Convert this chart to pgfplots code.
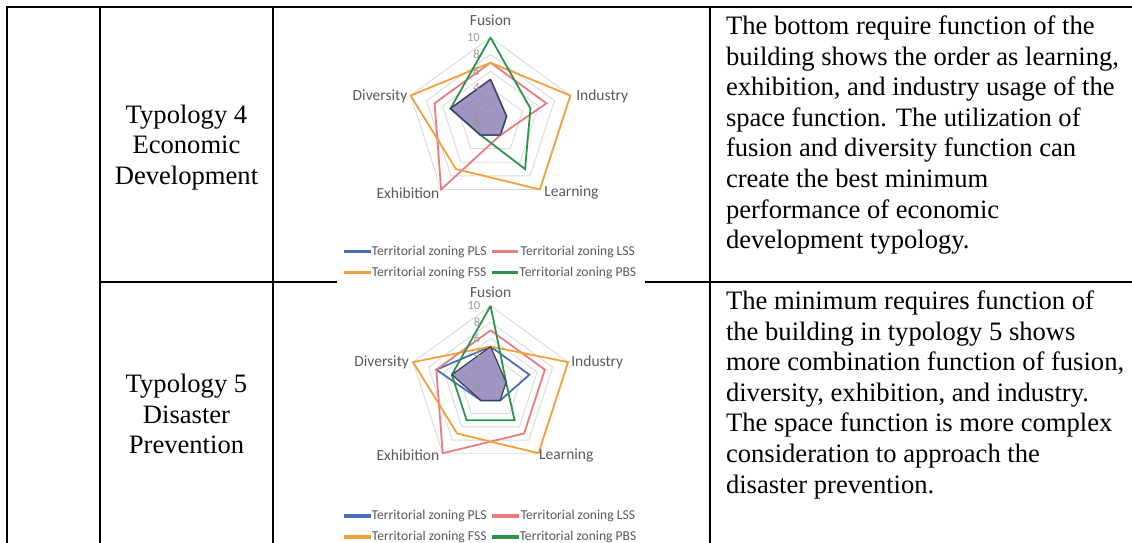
\documentclass[border=0pt]{standalone}
\usepackage{pgfplots}
\pgfplotsset{compat=1.18}
\usepackage{fontspec}
\setmainfont{Liberation Serif}
\newfontfamily\chartfont{Carlito}

\definecolor{plsc}{HTML}{4A6DB8}
\definecolor{lssc}{HTML}{E97C80}
\definecolor{fssc}{HTML}{F2A03A}
\definecolor{pbsc}{HTML}{2E9447}
\definecolor{minfill}{HTML}{8F82B8}
\definecolor{minline}{HTML}{3F3F5C}
\definecolor{ringc}{HTML}{DADADA}
\definecolor{labc}{HTML}{595959}
\definecolor{tickc}{HTML}{999999}

\newcommand\tabfont{\fontsize{26.6}{30.6}\selectfont}

\pgfplotsset{
  radar/.style={
    hide axis, scale only axis, anchor=center, clip=false,
    xmin=-12, xmax=12, ymin=-12, ymax=12,
    data cs=polar,
    legend columns=2,
    legend image code/.code={\fill[##1] (0pt,-1pt) rectangle (25pt,1pt);},
    legend style={draw=none, fill=none, inner sep=0pt, anchor=center,
      font=\chartfont\fontsize{13.6}{14}\selectfont, text=labc,
      row sep=8pt, nodes={inner sep=1pt},
      /tikz/every even column/.append style={column sep=4pt}},
  },
  ring/.style={ringc, line width=0.9pt, forget plot},
  ser/.style={line width=1.8pt},
}
\tikzset{
  cat/.style={font=\chartfont\fontsize{15.5}{16}\selectfont, text=labc, inner sep=0pt},
  tck/.style={font=\chartfont\fontsize{12.5}{13}\selectfont, text=tickc, inner sep=0pt, anchor=east},
}

\begin{document}
\begin{tikzpicture}
\useasboundingbox (0pt,0pt) rectangle (1132pt,-543pt);
\clip (0pt,0pt) rectangle (1132pt,-543pt);

% table frame and cell text
\begin{scope}[x=1pt,y=-1pt,line width=2pt]
  \draw (6.7,570) -- (6.7,7.3) -- (1150,7.3);
  \draw (100,7.3) -- (100,570);
  \draw (272.7,7.3) -- (272.7,570);
  \draw (710,7.3) -- (710,570);
  \draw (100,282.3) -- (336.7,282.3);
  \draw (645,282.3) -- (1150,282.3);

  \node[font=\tabfont, align=center, anchor=north, inner sep=0pt] at (186.5,103.8)
    {Typology 4\\Economic\\Development};
  \node[font=\tabfont, align=center, anchor=north, inner sep=0pt] at (186.5,373.3)
    {Typology 5\\Disaster\\Prevention};

  \node[font=\tabfont, align=left, anchor=north west, inner sep=0pt] at (725,14.8)
    {The bottom require function of the\\
     building shows the order as learning,\\
     exhibition, and industry usage of the\\
     space function. The utilization of\\
     fusion and diversity function can\\
     create the best minimum\\
     performance of economic\\
     development typology.};
  \node[font=\tabfont, align=left, anchor=north west, inner sep=0pt] at (725,289.8)
    {The minimum requires function of\\
     the building in typology 5 shows\\
     more combination function of fusion,\\
     diversity, exhibition, and industry.\\
     The space function is more complex\\
     consideration to approach the\\
     disaster prevention.};
\end{scope}

% Typology 4: Fusion, Industry, Learning, Exhibition, Diversity at 90, 18, -54, -126, 162 deg
\begin{axis}[radar, at={(490.5pt,-121.5pt)}, x=8.4pt, y=8.4pt,
  legend style={at={(0.5,-0.197)}}]
  \addplot[ring] coordinates {(90,2)(18,2)(-54,2)(-126,2)(162,2)(90,2)};
  \addplot[ring] coordinates {(90,4)(18,4)(-54,4)(-126,4)(162,4)(90,4)};
  \addplot[ring] coordinates {(90,6)(18,6)(-54,6)(-126,6)(162,6)(90,6)};
  \addplot[ring] coordinates {(90,8)(18,8)(-54,8)(-126,8)(162,8)(90,8)};
  \addplot[ring] coordinates {(90,10)(18,10)(-54,10)(-126,10)(162,10)(90,10)};

  \addplot[ser, plsc] coordinates {(90,5)(18,2)(-54,2)(-126,2)(162,5)(90,5)};
  \addplot[ser, lssc] coordinates {(90,7)(18,7)(-54,2)(-126,10)(162,7)(90,7)};
  \addplot[ser, fssc] coordinates {(90,7)(18,10)(-54,10)(-126,7)(162,10)(90,7)};
  \addplot[ser, pbsc] coordinates {(90,10)(18,5)(-54,7)(-126,2)(162,5)(90,10)};
  \addplot[fill=minfill, fill opacity=0.85, draw=minline, line width=1.2pt, forget plot]
    coordinates {(90,5)(18,2)(-54,2)(-126,2)(162,5)(90,5)};
  \legend{Territorial zoning PLS, Territorial zoning LSS, Territorial zoning FSS, Territorial zoning PBS}

  \node[tck] at (axis cs:-1.25,10) {10};
  \node[tck] at (axis cs:-1.25,8) {8};
  \node[tck] at (axis cs:-1.25,6) {6};
  \node[tck] at (axis cs:-1.25,4) {4};
  \node[tck] at (axis cs:-1.25,2) {2};
  \node[tck] at (axis cs:-1.25,0) {0};
  \node[cat, anchor=center] at (axis cs:0,12.06) {Fusion};
  \node[cat, anchor=west] at (axis cs:10.19,3.02) {Industry};
  \node[cat, anchor=west] at (axis cs:6.38,-8.51) {Learning};
  \node[cat, anchor=east] at (axis cs:-6.07,-8.51) {Exhibition};
  \node[cat, anchor=east] at (axis cs:-9.88,3.02) {Diversity};
\end{axis}

% Typology 5
\begin{axis}[radar, at={(490.6pt,-387.3pt)}, x=8.15pt, y=8.15pt,
  legend style={at={(0.5,-0.21)}}]
  \addplot[ring] coordinates {(90,2)(18,2)(-54,2)(-126,2)(162,2)(90,2)};
  \addplot[ring] coordinates {(90,4)(18,4)(-54,4)(-126,4)(162,4)(90,4)};
  \addplot[ring] coordinates {(90,6)(18,6)(-54,6)(-126,6)(162,6)(90,6)};
  \addplot[ring] coordinates {(90,8)(18,8)(-54,8)(-126,8)(162,8)(90,8)};
  \addplot[ring] coordinates {(90,10)(18,10)(-54,10)(-126,10)(162,10)(90,10)};

  \addplot[ser, plsc] coordinates {(90,5)(18,5)(-54,2)(-126,2)(162,7)(90,5)};
  \addplot[ser, lssc] coordinates {(90,7)(18,7)(-54,7)(-126,10)(162,7)(90,7)};
  \addplot[ser, fssc] coordinates {(90,5)(18,10)(-54,10)(-126,7)(162,10)(90,5)};
  \addplot[ser, pbsc] coordinates {(90,10)(18,2)(-54,5)(-126,5)(162,5)(90,10)};
  \addplot[fill=minfill, fill opacity=0.85, draw=minline, line width=1.2pt, forget plot]
    coordinates {(90,5)(18,2)(-54,2)(-126,2)(162,5)(90,5)};
  \legend{Territorial zoning PLS, Territorial zoning LSS, Territorial zoning FSS, Territorial zoning PBS}

  \node[tck] at (axis cs:-1.25,10) {10};
  \node[tck] at (axis cs:-1.25,8) {8};
  \node[tck] at (axis cs:-1.25,6) {6};
  \node[tck] at (axis cs:-1.25,4) {4};
  \node[tck] at (axis cs:-1.25,2) {2};
  \node[tck] at (axis cs:-1.25,0) {0};
  \node[cat, anchor=center] at (axis cs:0,11.72) {Fusion};
  \node[cat, anchor=west] at (axis cs:9.88,3.1) {Industry};
  \node[cat, anchor=west] at (axis cs:5.94,-8.36) {Learning};
  \node[cat, anchor=east] at (axis cs:-6.27,-8.36) {Exhibition};
  \node[cat, anchor=east] at (axis cs:-9.99,3.1) {Diversity};
\end{axis}
\end{tikzpicture}
\end{document}
